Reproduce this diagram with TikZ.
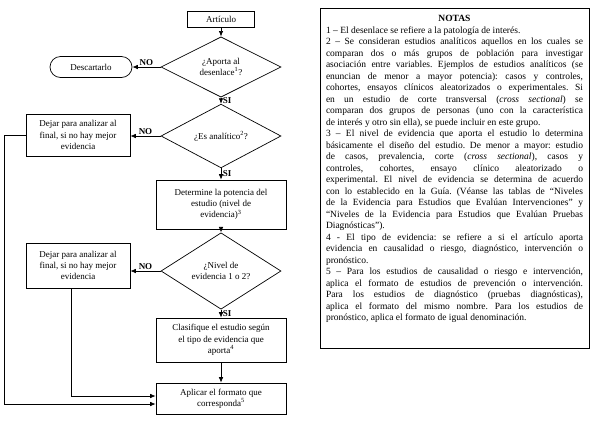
\documentclass[tikz,border=0pt]{standalone}
\usepackage{fontspec}
\setmainfont{Liberation Serif}
\usetikzlibrary{shapes.geometric,arrows.meta}
\newcommand{\nt}[1]{\textsuperscript{#1}}
\newcommand{\cs}{\emph{cross sectional}}

\begin{document}
\begin{tikzpicture}[x=1bp, y=-1bp, >={Latex[length=5.5bp,width=4.5bp]}, line width=0.7bp,
    font=\fontsize{9bp}{11.3bp}\selectfont,
    caja/.style={draw, align=center, inner sep=0pt},
    rombo/.style={draw, diamond, align=center, inner sep=0pt, minimum width=120bp},
    rotulo/.style={font=\fontsize{9bp}{10bp}\selectfont\bfseries, inner sep=1.5bp}]
  \useasboundingbox (0,0) rectangle (595,420);
  % diagrama de flujo
  \node[caja, minimum width=67bp, minimum height=16bp] (art) at (221,19) {Artículo};
  \node[rombo, minimum height=51bp] (q1) at (221,67) {¿Aporta al\\desenlace\nt{1}?};
  \node[caja, rounded corners=10.5bp, minimum width=82bp, minimum height=21bp] (desc) at (91,67) {Descartarlo};
  \node[rombo, minimum height=52bp] (q2) at (221,136) {¿Es analítico\nt{2}?};
  \node[caja, minimum width=104bp, minimum height=42bp] (dej1) at (78,135) {Dejar para analizar al\\final, si no hay mejor\\evidencia};
  \node[caja, minimum width=130bp, minimum height=49bp] (det) at (221,204.5) {Determine la potencia del\\estudio (nivel de\\evidencia)\nt{3}};
  \node[rombo, minimum height=54bp] (q3) at (221,271) {¿Nivel de\\evidencia 1 o 2?};
  \node[caja, minimum width=104bp, minimum height=45bp] (dej2) at (78,265.5) {Dejar para analizar al\\final, si no hay mejor\\evidencia};
  \node[caja, minimum width=130bp, minimum height=44bp] (cla) at (221,340) {Clasifique el estudio según\\el tipo de evidencia que\\aporta\nt{4}};
  \node[caja, minimum width=130bp, minimum height=31bp] (apl) at (221,398.5) {Aplicar el formato que\\corresponda\nt{5}};
  % conectores
  \draw[->] (art) -- (q1);
  \draw[->] (q1) -- (q1 -| desc.east) node[rotulo, above, midway] {NO};
  \draw[->] (q1) -- (q2) node[rotulo, right, midway] {SI};
  \draw[->] (q2) -- (q2 -| dej1.east) node[rotulo, above, midway] {NO};
  \draw[->] (q2) -- (det) node[rotulo, right, midway] {SI};
  \draw[->] (det) -- (q3);
  \draw[->] (q3) -- (q3 -| dej2.east) node[rotulo, above, midway] {NO};
  \draw[->] (q3) -- (cla) node[rotulo, right, midway] {SI};
  \draw[->] (cla) -- (apl);
  \draw[->] ([xshift=-7bp]dej2.south) |- ([yshift=2.5bp]apl.west);
  \draw[->] (dej1.west) -- ++(-21,0) |- ([yshift=-5.5bp]apl.west);
  % notas
  \node[draw, line width=0.8bp, anchor=north west, minimum width=269bp, minimum height=340bp] (notas) at (320,8) {};
  \node[anchor=north, inner sep=0pt, text width=257bp, align=justify,
        font=\fontsize{9.5bp}{11.5bp}\selectfont] (txt) at (454.5,15) {%
    \setlength{\parindent}{0pt}\tolerance=10000\hyphenpenalty=10000\frenchspacing
    {\centering\bfseries NOTAS\par}
    1 -- El desenlace se refiere a la patología de interés.\par
    2 -- Se consideran estudios analíticos aquellos en los cuales se\linebreak
    comparan dos o más grupos de población para investigar\linebreak
    asociación entre variables. Ejemplos de estudios analíticos (se\linebreak
    enuncian de menor a mayor potencia): casos y controles,\linebreak
    cohortes, ensayos clínicos aleatorizados o experimentales. Si\linebreak
    en un estudio de corte transversal (\cs) se\linebreak
    comparan dos grupos de personas (uno con la característica\linebreak
    de interés y otro sin ella), se puede incluir en este grupo.\par
    3 -- El nivel de evidencia que aporta el estudio lo determina\linebreak
    básicamente el diseño del estudio. De menor a mayor: estudio\linebreak
    de casos, prevalencia, corte (\cs), casos y\linebreak
    controles, cohortes, ensayo clínico aleatorizado o\linebreak
    experimental. El nivel de evidencia se determina de acuerdo\linebreak
    con lo establecido en la Guía. (Véanse las tablas de “Niveles\linebreak
    de la Evidencia para Estudios que Evalúan Intervenciones” y\linebreak
    “Niveles de la Evidencia para Estudios que Evalúan Pruebas\linebreak
    Diagnósticas”).\par
    4 - El tipo de evidencia: se refiere a si el artículo aporta\linebreak
    evidencia en causalidad o riesgo, diagnóstico, intervención o\linebreak
    pronóstico.\par
    5 -- Para los estudios de causalidad o riesgo e intervención,\linebreak
    aplica el formato de estudios de prevención o intervención.\linebreak
    Para los estudios de diagnóstico (pruebas diagnósticas),\linebreak
    aplica el formato del mismo nombre. Para los estudios de\linebreak
    pronóstico, aplica el formato de igual denominación.\par};
\end{tikzpicture}
\end{document}
